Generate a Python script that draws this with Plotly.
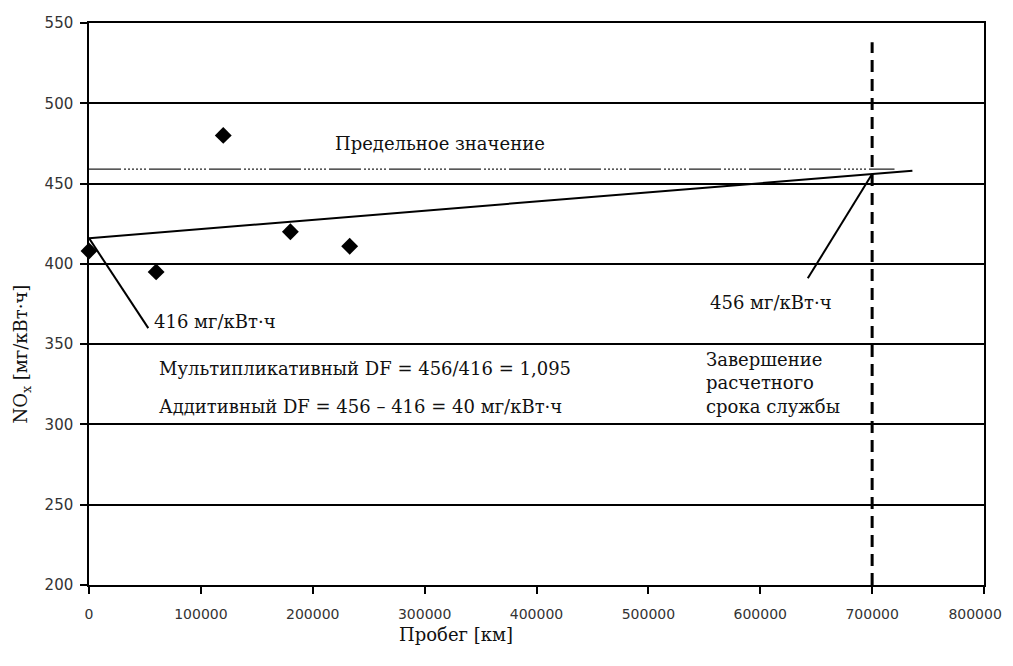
import plotly.graph_objects as go

# --- data ---
mileage_km = [0, 60000, 120000, 180000, 233000]
nox_values = [408, 395, 480, 420, 411]

trend_x = [0, 736000]
trend_y = [416, 458]

limit_value = 459
limit_x = [0, 720000]

end_of_life_km = 700000
end_of_life_y = [200, 538]

start_point = (0, 416)
end_point = (700000, 456)
leader1_tail = (53000, 360)
leader2_tail = (642500, 391)

x_ticks = [0, 100000, 200000, 300000, 400000, 500000, 600000, 700000, 800000]
y_ticks = [200, 250, 300, 350, 400, 450, 500, 550]

serif = "DejaVu Serif"
sans = "DejaVu Sans"

# last x label padded with non-breaking spaces so it stays inside the page edge
x_ticktext = [str(v) for v in x_ticks]
x_ticktext[-1] = x_ticktext[-1] + "\u00a0" * 4

fig = go.Figure()

# limit line (dash-dot-dot)
fig.add_trace(go.Scatter(
    x=limit_x, y=[limit_value] * len(limit_x), mode="lines",
    line=dict(color="#222", width=1.3,
              dash="32px,3px,2px,2px,2px,2px,2px,2px,2px,2px,2px,2px,2px,3px"),
    hoverinfo="skip", showlegend=False))

# trend line
fig.add_trace(go.Scatter(
    x=trend_x, y=trend_y, mode="lines",
    line=dict(color="black", width=2), hoverinfo="skip", showlegend=False))

# leader lines
fig.add_trace(go.Scatter(
    x=[start_point[0], leader1_tail[0]], y=[start_point[1], leader1_tail[1]],
    mode="lines", line=dict(color="black", width=2), showlegend=False, hoverinfo="skip"))
fig.add_trace(go.Scatter(
    x=[end_point[0], leader2_tail[0]], y=[end_point[1], leader2_tail[1]],
    mode="lines", line=dict(color="black", width=2), showlegend=False, hoverinfo="skip"))

# end of life vertical dashed line
fig.add_trace(go.Scatter(
    x=[end_of_life_km, end_of_life_km], y=end_of_life_y, mode="lines",
    line=dict(color="black", width=3, dash="12px,7px"), showlegend=False, hoverinfo="skip"))

# measurement points
fig.add_trace(go.Scatter(
    x=mileage_km, y=nox_values, mode="markers",
    marker=dict(symbol="diamond", size=13, color="black"),
    showlegend=False, cliponaxis=False))

font_ann = dict(family=serif, size=18, color="#111")
annotations = [
    dict(x=313700, y=475, text="Предельное значение", showarrow=False,
         xanchor="center", yanchor="middle", font=font_ann),
    dict(x=56300, y=364, text="416 мг/кВт·ч", showarrow=False,
         xanchor="left", yanchor="middle", font=font_ann),
    dict(x=609500, y=376, text="456 мг/кВт·ч", showarrow=False,
         xanchor="center", yanchor="middle", font=font_ann),
    dict(x=549600, y=326, text="Завершение<br>расчетного<br>срока службы", showarrow=False,
         xanchor="left", yanchor="middle", align="left", font=font_ann),
    dict(x=60800, y=335, text="Мультипликативный DF = 456/416 = 1,095", showarrow=False,
         xanchor="left", yanchor="middle", font=font_ann),
    dict(x=60800, y=311, text="Аддитивный DF = 456 – 416 = 40 мг/кВт·ч", showarrow=False,
         xanchor="left", yanchor="middle", font=font_ann),
    dict(x=0, xref="paper", y=0.41, yref="paper", xshift=-67,
         text="NO<sub>x</sub> [мг/кВт·ч]", textangle=-90, showarrow=False,
         xanchor="center", yanchor="middle", font=font_ann),
    dict(x=0.41, xref="paper", y=0, yref="paper", yshift=-49,
         text="Пробег [км]", showarrow=False,
         xanchor="center", yanchor="middle", font=font_ann),
]

fig.update_layout(
    width=1005, height=650,
    margin=dict(l=81, r=29, t=15, b=73, autoexpand=False),
    paper_bgcolor="white", plot_bgcolor="white",
    annotations=annotations,
    showlegend=False,
)

fig.update_xaxes(
    range=[0, 800000], tickvals=x_ticks, ticktext=x_ticktext,
    showgrid=False, zeroline=False, automargin=False,
    showline=True, linecolor="black", linewidth=1.5, mirror=True,
    ticks="outside", ticklen=7, tickcolor="black", tickwidth=1.5,
    ticklabelstandoff=8, ticklabeloverflow="allow",
    tickfont=dict(family=sans, size=14, color="#333"),
)
fig.update_yaxes(
    range=[200, 550], tickvals=y_ticks,
    showgrid=True, gridcolor="black", gridwidth=1.5, zeroline=False, automargin=False,
    showline=True, linecolor="black", linewidth=1.5, mirror=True,
    ticks="outside", ticklen=7, tickcolor="black", tickwidth=1.5,
    ticklabelstandoff=4,
    tickfont=dict(family=sans, size=15, color="#333"),
)

fig.write_html("out.html")
